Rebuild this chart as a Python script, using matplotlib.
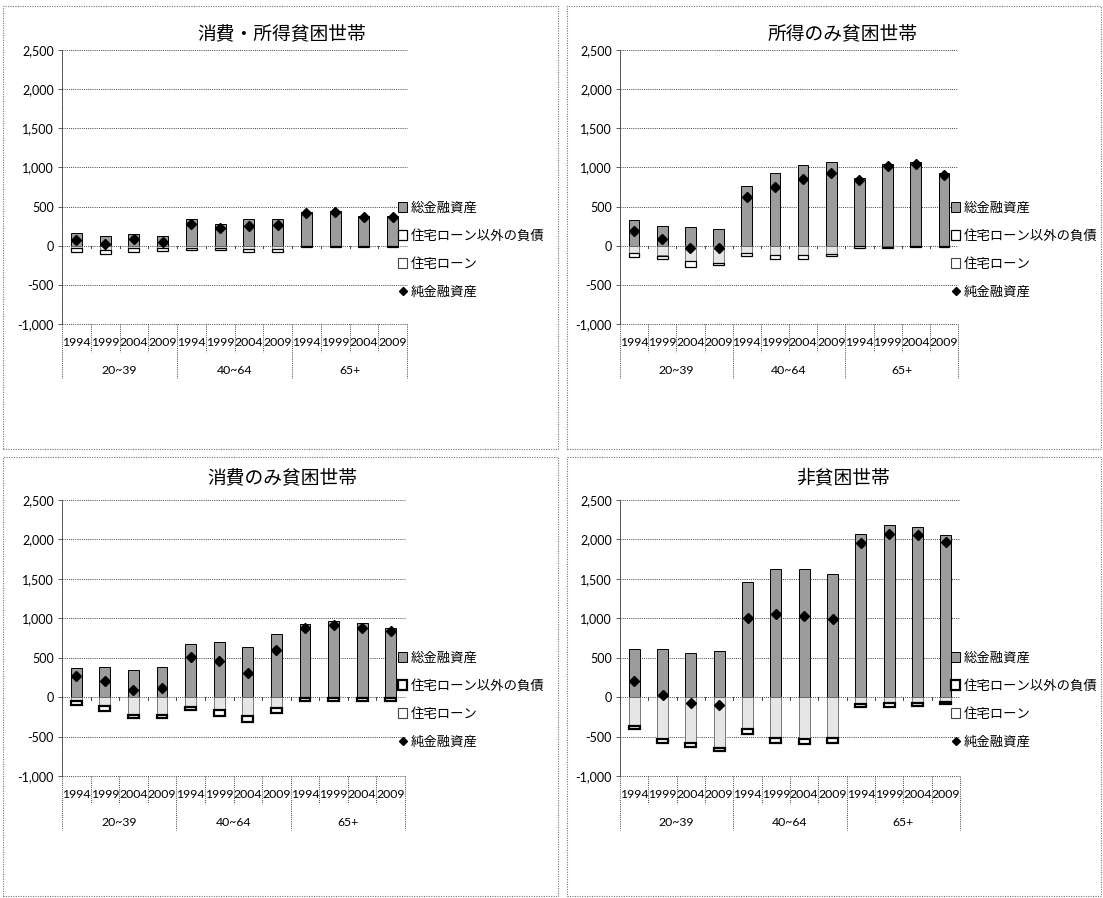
#-------------------------------------------------------------------------------
import numpy as np
import matplotlib
matplotlib.use('Agg')
import matplotlib.pyplot as plt
import matplotlib.transforms as mtransforms
from matplotlib.patches import Patch, Rectangle
from matplotlib.lines import Line2D
from matplotlib.ticker import FuncFormatter
#-------------------------------------------------------------------------------
years      = ['1994', '1999', '2004', '2009']
age_groups = ['20~39', '40~64', '65+']
titles     = ['消費・所得貧困世帯', '所得のみ貧困世帯', '消費のみ貧困世帯', '非貧困世帯']
legend_labels = ['総金融資産', '住宅ローン以外の負債', '住宅ローン', '純金融資産']

# 消費・所得貧困世帯
assets_both  = [160, 130, 155, 120, 340, 280, 340, 340, 430, 445, 380, 380]
housing_both = [-30, -50, -30, -35, -25, -35, -40, -40, -5, -5, -5, -5]
other_both   = [-50, -55, -50, -35, -30, -20, -40, -40, -8, -10, -8, -7]
net_both     = [78, 25, 80, 52, 280, 225, 255, 262, 418, 430, 368, 368]

# 所得のみ貧困世帯
assets_inc  = [330, 255, 235, 210, 765, 925, 1030, 1065, 860, 1040, 1065, 925]
housing_inc = [-95, -125, -195, -215, -95, -120, -120, -100, -10, -12, -10, -8]
other_inc   = [-50, -50, -75, -35, -40, -50, -50, -35, -15, -15, -8, -12]
net_inc     = [187, 80, -35, -35, 625, 755, 855, 930, 835, 1012, 1045, 905]

# 消費のみ貧困世帯
assets_con  = [370, 380, 350, 380, 680, 700, 630, 800, 930, 970, 935, 875]
housing_con = [-55, -115, -225, -225, -120, -160, -240, -135, -15, -15, -15, -13]
other_con   = [-45, -55, -35, -35, -45, -75, -80, -65, -40, -30, -40, -30]
net_con     = [270, 205, 95, 120, 510, 460, 310, 600, 875, 920, 880, 835]

# 非貧困世帯
assets_np  = [605, 605, 555, 580, 1455, 1630, 1630, 1565, 2070, 2185, 2160, 2060]
housing_np = [-360, -530, -580, -645, -410, -515, -535, -515, -90, -75, -75, -65]
other_np   = [-50, -50, -50, -40, -55, -65, -65, -65, -30, -45, -35, -25]
net_np     = [200, 30, -70, -105, 1000, 1050, 1025, 985, 1955, 2070, 2055, 1970]
#-------------------------------------------------------------------------------
plt.rcParams['font.family'] = ['Lato', 'Noto Sans CJK JP']
plt.rcParams['axes.unicode_minus'] = False

W, H = 1103, 898
fig = plt.figure(figsize=(W/100, H/100), dpi=100)

def fbox(x0, y0, x1, y1):
    # pixel box (origin top-left) -> figure rect
    return [x0/W, 1 - y1/H, (x1 - x0)/W, (y1 - y0)/H]

grid_c  = '#444444'
dot     = (0, (1, 1.2))
asset_c = '#9c9c9c'
loan_c  = '#e6e6e6'
bar_w   = 0.38

panels = [
    (titles[0], assets_both, housing_both, other_both, net_both, (3, 6, 558, 449),   (62, 50, 407, 324),   (282, 33),  (398, 201), 0.9),
    (titles[1], assets_inc,  housing_inc,  other_inc,  net_inc,  (567, 6, 1101, 449), (620, 50, 958, 324),  (843, 33),  (951, 201), 0.9),
    (titles[2], assets_con,  housing_con,  other_con,  net_con,  (3, 457, 558, 896),  (62, 500, 405, 776),  (282, 477), (398, 651), 1.6),
    (titles[3], assets_np,   housing_np,   other_np,   net_np,   (567, 457, 1101, 896), (620, 500, 960, 776), (843, 477), (951, 651), 1.6),
]
#-------------------------------------------------------------------------------
for title, assets, housing, other, net, border, axbox, tpos, lpos, thick in panels:
    bx0, by0, bx1, by1 = border
    fig.add_artist(Rectangle((bx0/W, 1 - by1/H), (bx1 - bx0)/W, (by1 - by0)/H,
                             transform=fig.transFigure, fill=False,
                             ls=dot, ec='#777777', lw=0.8))
    ax = fig.add_axes(fbox(*axbox))
    x = np.arange(len(assets))

    ax.bar(x, assets, width=bar_w, color=asset_c, edgecolor='black', lw=0.7, zorder=3)
    ax.bar(x, housing, width=bar_w, color=loan_c, edgecolor='#666666', lw=0.6, zorder=3)
    ax.bar(x, other, bottom=housing, width=bar_w, color='white', edgecolor='black', lw=thick, zorder=3)
    ax.plot(x, net, 'D', color='black', ms=5, zorder=4)

    ax.set_xlim(-0.5, len(x) - 0.5)
    ax.set_ylim(-1000, 2500)
    yt = np.arange(-1000, 2501, 500)
    ax.set_yticks(yt)
    ax.yaxis.set_major_formatter(FuncFormatter(lambda v, p: f'{int(v):,}'))
    ax.tick_params(axis='y', length=3, width=0.6, color=grid_c, labelsize=9, pad=3)
    ax.set_xticks([])
    for v in yt:
        ax.axhline(v, color=grid_c, ls=dot, lw=0.7, clip_on=False, zorder=1)
    # x axis ticks at zero
    for b in np.arange(-0.5, len(x)):
        ax.plot([b, b], [0, -30], color=grid_c, lw=0.7, zorder=1)
    for s in ['top', 'right', 'bottom']:
        ax.spines[s].set_visible(False)
    ax.spines['left'].set_linestyle(dot)
    ax.spines['left'].set_color(grid_c)
    ax.spines['left'].set_linewidth(0.7)

    # category label table
    trans = mtransforms.blended_transform_factory(ax.transData, ax.transAxes)
    for i, b in enumerate(np.arange(-0.5, len(x))):
        low = -0.197 if i % 4 == 0 else -0.102
        ax.plot([b, b], [0, low], transform=trans, clip_on=False,
                color=grid_c, ls=dot, lw=0.7)
    for i in range(len(x)):
        ax.text(i, -0.066, years[i % 4], transform=trans, ha='center', va='center', fontsize=8.8)
    for g, name in enumerate(age_groups):
        ax.text(4*g + 1.5, -0.168, name, transform=trans, ha='center', va='center', fontsize=8.8)

    fig.text(tpos[0]/W, 1 - tpos[1]/H, title, ha='center', va='center', fontsize=13.5)

    handles = [Patch(fc=asset_c, ec='black', lw=0.7),
               Patch(fc='white', ec='black', lw=thick),
               Patch(fc='white', ec='#444444', lw=0.8),
               Line2D([], [], marker='D', color='black', ls='none', ms=4)]
    ax.legend(handles, legend_labels, loc='upper left',
              bbox_to_anchor=(lpos[0]/W, 1 - lpos[1]/H), bbox_transform=fig.transFigure,
              frameon=False, fontsize=9.6, handlelength=0.7, handleheight=0.7,
              handletextpad=0.25, labelspacing=1.15, borderpad=0, borderaxespad=0)
#-------------------------------------------------------------------------------
fig.savefig('out.png', dpi=100)
